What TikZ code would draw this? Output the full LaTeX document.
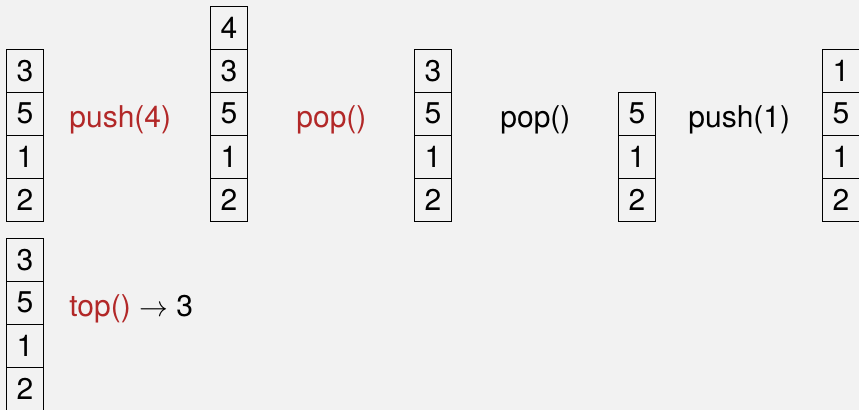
\documentclass[tikz,border=0pt]{standalone}
\usepackage{fontspec}
\setmainfont{TeX Gyre Heros}
\definecolor{opred}{RGB}{178,40,40}
\definecolor{bggray}{RGB}{242,242,242}
\begin{document}
\begin{tikzpicture}[x=0.5pt,y=-0.5pt]
	\tikzstyle{every node}+=[inner sep=0pt,font=\fontsize{15}{18}\selectfont]
	\tikzstyle{cell}=[draw=black,line width=0.5pt,minimum width=18.5pt,minimum height=21.5pt]
	\tikzstyle{op}=[anchor=base west]
	\fill [bggray] (0,0) rectangle (859,410);
	\useasboundingbox (0,0) rectangle (859,410);
	% first stack
	\node [cell] (a1) at (25,70.8) {3};
	\node [cell] (a2) at (25,113.8) {5};
	\node [cell] (a3) at (25,156.8) {1};
	\node [cell] (a4) at (25,199.8) {2};
	\node [op,text=opred] (op1) at (69,128) {push(4)};
	% second stack
	\node [cell] (b0) at (229,27.8) {4};
	\node [cell] (b1) at (229,70.8) {3};
	\node [cell] (b2) at (229,113.8) {5};
	\node [cell] (b3) at (229,156.8) {1};
	\node [cell] (b4) at (229,199.8) {2};
	\node [op,text=opred] (op2) at (296,128) {pop()};
	% third stack
	\node [cell] (c1) at (433,70.8) {3};
	\node [cell] (c2) at (433,113.8) {5};
	\node [cell] (c3) at (433,156.8) {1};
	\node [cell] (c4) at (433,199.8) {2};
	\node [op] (op3) at (500,128) {pop()};
	% fourth stack
	\node [cell] (d2) at (637,113.8) {5};
	\node [cell] (d3) at (637,156.8) {1};
	\node [cell] (d4) at (637,199.8) {2};
	\node [op] (op4) at (688,128) {push(1)};
	% fifth stack
	\node [cell] (e1) at (841,70.8) {1};
	\node [cell] (e2) at (841,113.8) {5};
	\node [cell] (e3) at (841,156.8) {1};
	\node [cell] (e4) at (841,199.8) {2};
	% second row
	\node [cell] (f1) at (25,259.8) {3};
	\node [cell] (f2) at (25,302.8) {5};
	\node [cell] (f3) at (25,345.8) {1};
	\node [cell] (f4) at (25,388.8) {2};
	\node [op] (op5) at (69,317) {\textcolor{opred}{top()} $\rightarrow$ 3};
\end{tikzpicture}
\end{document}
